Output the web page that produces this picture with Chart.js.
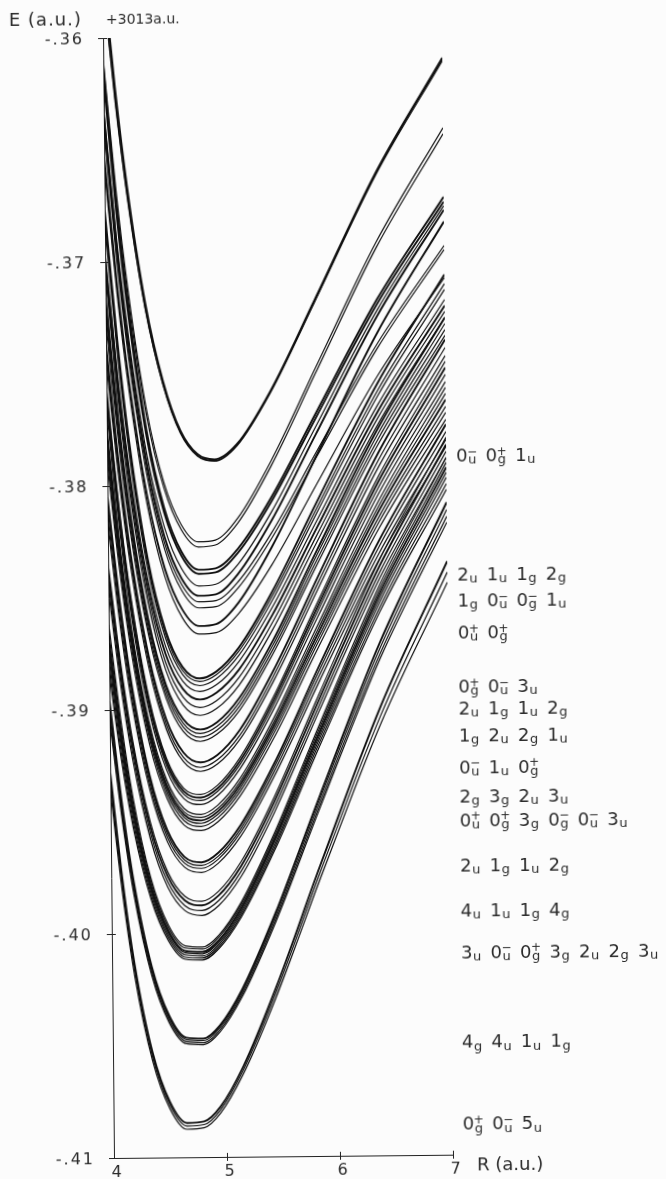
<!DOCTYPE html>
<html>
<head>
<meta charset="utf-8">
<script src="https://cdn.jsdelivr.net/npm/chart.js@4.4.1/dist/chart.umd.min.js"></script>
<style>
  html, body { margin: 0; padding: 0; background: #fcfcfc; }
  #wrap { position: relative; width: 666px; height: 1179px; overflow: hidden; }
  #plot { position: absolute; left: 0; top: 0; transform-origin: 114px 1158px; transform: rotate(-0.56deg); }
</style>
</head>
<body>
<div id="wrap"><canvas id="plot" width="666" height="1179"></canvas></div>
<script>
// Internuclear distance grid R (a.u.) shared by all curves
const rGrid = [4.0, 4.1, 4.2, 4.35, 4.5, 4.65, 4.8, 4.95, 5.15, 5.45, 5.85, 6.4, 7.0];

// Potential energy curves E(R) in a.u. (shifted by +3013 a.u.), one array per state
const curveA1 = [-0.35670, -0.36218, -0.36667, -0.37184, -0.37533, -0.37755, -0.37862, -0.37886, -0.37818, -0.37583, -0.37177, -0.36612, -0.36103];
const curveA2 = [-0.35750, -0.36280, -0.36713, -0.37213, -0.37550, -0.37765, -0.37868, -0.37891, -0.37823, -0.37587, -0.37182, -0.36617, -0.36107];
const curveA3 = [-0.35730, -0.36265, -0.36703, -0.37209, -0.37549, -0.37767, -0.37871, -0.37894, -0.37826, -0.37591, -0.37187, -0.36624, -0.36116];

const curveB1 = [-0.36100, -0.36673, -0.37131, -0.37654, -0.37987, -0.38176, -0.38253, -0.38246, -0.38149, -0.37895, -0.37482, -0.36921, -0.36415];
const curveB2 = [-0.36150, -0.36715, -0.37167, -0.37684, -0.38012, -0.38199, -0.38276, -0.38268, -0.38171, -0.37918, -0.37506, -0.36946, -0.36442];
const curveB3 = [-0.36130, -0.36728, -0.37206, -0.37752, -0.38099, -0.38297, -0.38378, -0.38372, -0.38285, -0.38057, -0.37684, -0.37179, -0.36723];
const curveB4 = [-0.36180, -0.36769, -0.37241, -0.37779, -0.38122, -0.38316, -0.38396, -0.38390, -0.38303, -0.38076, -0.37704, -0.37200, -0.36745];

const curveC1 = [-0.36320, -0.36886, -0.37339, -0.37857, -0.38186, -0.38373, -0.38450, -0.38443, -0.38354, -0.38122, -0.37742, -0.37227, -0.36763];
const curveC2 = [-0.36350, -0.36920, -0.37377, -0.37897, -0.38229, -0.38417, -0.38494, -0.38488, -0.38397, -0.38161, -0.37776, -0.37253, -0.36781];
const curveC3 = [-0.36380, -0.36949, -0.37405, -0.37925, -0.38256, -0.38444, -0.38521, -0.38516, -0.38432, -0.38215, -0.37859, -0.37376, -0.36941];
const curveC4 = [-0.36410, -0.36979, -0.37434, -0.37953, -0.38283, -0.38471, -0.38548, -0.38543, -0.38459, -0.38240, -0.37882, -0.37397, -0.36959];

const curveD1 = [-0.36530, -0.37088, -0.37535, -0.38044, -0.38369, -0.38553, -0.38629, -0.38621, -0.38526, -0.38279, -0.37876, -0.37328, -0.36834];
const curveD2 = [-0.36580, -0.37134, -0.37578, -0.38084, -0.38406, -0.38590, -0.38665, -0.38659, -0.38575, -0.38358, -0.38002, -0.37519, -0.37084];

const curveE1 = [-0.36770, -0.37352, -0.37819, -0.38327, -0.38645, -0.38812, -0.38863, -0.38832, -0.38726, -0.38478, -0.38081, -0.37551, -0.37070];
const curveE2 = [-0.36800, -0.37377, -0.37841, -0.38345, -0.38661, -0.38827, -0.38877, -0.38846, -0.38742, -0.38497, -0.38107, -0.37584, -0.37111];
const curveE3 = [-0.36840, -0.37411, -0.37870, -0.38369, -0.38681, -0.38845, -0.38895, -0.38864, -0.38761, -0.38517, -0.38129, -0.37608, -0.37137];

const curveF1 = [-0.36960, -0.37505, -0.37942, -0.38419, -0.38717, -0.38874, -0.38921, -0.38891, -0.38788, -0.38547, -0.38163, -0.37648, -0.37182];
const curveF2 = [-0.36990, -0.37537, -0.37975, -0.38453, -0.38752, -0.38909, -0.38957, -0.38926, -0.38824, -0.38581, -0.38195, -0.37677, -0.37209];
const curveF3 = [-0.37030, -0.37576, -0.38013, -0.38490, -0.38789, -0.38945, -0.38993, -0.38962, -0.38859, -0.38615, -0.38227, -0.37706, -0.37235];
const curveF4 = [-0.37060, -0.37607, -0.38046, -0.38524, -0.38823, -0.38980, -0.39028, -0.38997, -0.38893, -0.38648, -0.38258, -0.37735, -0.37262];

const curveG1 = [-0.37160, -0.37697, -0.38127, -0.38597, -0.38890, -0.39044, -0.39091, -0.39059, -0.38951, -0.38698, -0.38294, -0.37752, -0.37262];
const curveG2 = [-0.37200, -0.37731, -0.38156, -0.38620, -0.38910, -0.39063, -0.39109, -0.39077, -0.38970, -0.38718, -0.38315, -0.37777, -0.37289];
const curveG3 = [-0.37230, -0.37757, -0.38180, -0.38641, -0.38929, -0.39080, -0.39126, -0.39094, -0.38988, -0.38737, -0.38337, -0.37801, -0.37316];
const curveG4 = [-0.37270, -0.37791, -0.38209, -0.38664, -0.38949, -0.39099, -0.39144, -0.39112, -0.39007, -0.38757, -0.38358, -0.37825, -0.37342];

const curveH1 = [-0.37370, -0.37889, -0.38306, -0.38760, -0.39044, -0.39193, -0.39238, -0.39205, -0.39095, -0.38834, -0.38419, -0.37863, -0.37360];
const curveH2 = [-0.37410, -0.37924, -0.38337, -0.38786, -0.39068, -0.39215, -0.39260, -0.39227, -0.39118, -0.38859, -0.38447, -0.37896, -0.37396];
const curveH3 = [-0.37450, -0.37958, -0.38366, -0.38810, -0.39088, -0.39234, -0.39278, -0.39246, -0.39137, -0.38881, -0.38473, -0.37927, -0.37432];

const curveI1 = [-0.37560, -0.38086, -0.38504, -0.38949, -0.39219, -0.39353, -0.39381, -0.39340, -0.39218, -0.38949, -0.38527, -0.37967, -0.37458];
const curveI2 = [-0.37600, -0.38118, -0.38530, -0.38969, -0.39235, -0.39367, -0.39395, -0.39354, -0.39233, -0.38966, -0.38547, -0.37990, -0.37485];
const curveI3 = [-0.37630, -0.38143, -0.38551, -0.38986, -0.39250, -0.39380, -0.39408, -0.39367, -0.39248, -0.38984, -0.38568, -0.38017, -0.37516];
const curveI4 = [-0.37670, -0.38177, -0.38580, -0.39009, -0.39270, -0.39399, -0.39426, -0.39386, -0.39267, -0.39005, -0.38593, -0.38045, -0.37548];

const curveJ1 = [-0.37740, -0.38239, -0.38636, -0.39060, -0.39316, -0.39443, -0.39470, -0.39429, -0.39310, -0.39045, -0.38628, -0.38076, -0.37574];
const curveJ2 = [-0.37770, -0.38265, -0.38658, -0.39077, -0.39332, -0.39458, -0.39484, -0.39444, -0.39325, -0.39062, -0.38648, -0.38099, -0.37601];
const curveJ3 = [-0.37800, -0.38290, -0.38679, -0.39094, -0.39346, -0.39471, -0.39497, -0.39457, -0.39339, -0.39078, -0.38668, -0.38122, -0.37628];
const curveJ4 = [-0.37830, -0.38315, -0.38701, -0.39112, -0.39361, -0.39484, -0.39510, -0.39470, -0.39354, -0.39095, -0.38689, -0.38149, -0.37659];
const curveJ5 = [-0.37860, -0.38340, -0.38722, -0.39129, -0.39376, -0.39498, -0.39524, -0.39485, -0.39369, -0.39112, -0.38708, -0.38172, -0.37686];
const curveJ6 = [-0.37900, -0.38374, -0.38751, -0.39153, -0.39396, -0.39517, -0.39542, -0.39503, -0.39388, -0.39133, -0.38732, -0.38200, -0.37717];

const curveK1 = [-0.38050, -0.38522, -0.38897, -0.39297, -0.39539, -0.39659, -0.39684, -0.39642, -0.39519, -0.39248, -0.38821, -0.38254, -0.37739];
const curveK2 = [-0.38090, -0.38554, -0.38923, -0.39317, -0.39555, -0.39673, -0.39698, -0.39657, -0.39535, -0.39266, -0.38843, -0.38281, -0.37771];
const curveK3 = [-0.38130, -0.38586, -0.38949, -0.39336, -0.39571, -0.39687, -0.39711, -0.39670, -0.39550, -0.39284, -0.38865, -0.38310, -0.37806];
const curveK4 = [-0.38170, -0.38620, -0.38978, -0.39359, -0.39591, -0.39705, -0.39729, -0.39688, -0.39569, -0.39305, -0.38890, -0.38338, -0.37838];

const curveL1 = [-0.38350, -0.38785, -0.39132, -0.39501, -0.39724, -0.39835, -0.39858, -0.39813, -0.39683, -0.39395, -0.38943, -0.38342, -0.37797];
const curveL2 = [-0.38390, -0.38819, -0.39160, -0.39524, -0.39744, -0.39854, -0.39876, -0.39832, -0.39703, -0.39416, -0.38967, -0.38370, -0.37829];
const curveL3 = [-0.38430, -0.38854, -0.39192, -0.39551, -0.39769, -0.39877, -0.39899, -0.39855, -0.39726, -0.39441, -0.38994, -0.38399, -0.37860];
const curveL4 = [-0.38470, -0.38889, -0.39222, -0.39577, -0.39793, -0.39899, -0.39921, -0.39877, -0.39749, -0.39464, -0.39018, -0.38425, -0.37887];

const curveM1 = [-0.38620, -0.39051, -0.39394, -0.39751, -0.39961, -0.40056, -0.40062, -0.40008, -0.39862, -0.39554, -0.39080, -0.38453, -0.37887];
const curveM2 = [-0.38660, -0.39082, -0.39417, -0.39767, -0.39973, -0.40066, -0.40071, -0.40017, -0.39872, -0.39566, -0.39095, -0.38472, -0.37909];
const curveM3 = [-0.38700, -0.39114, -0.39443, -0.39786, -0.39988, -0.40079, -0.40084, -0.40031, -0.39886, -0.39581, -0.39112, -0.38491, -0.37931];
const curveM4 = [-0.38730, -0.39138, -0.39462, -0.39800, -0.39998, -0.40088, -0.40093, -0.40040, -0.39897, -0.39593, -0.39127, -0.38510, -0.37953];
const curveM5 = [-0.38760, -0.39162, -0.39481, -0.39813, -0.40009, -0.40097, -0.40102, -0.40049, -0.39907, -0.39606, -0.39142, -0.38529, -0.37976];
const curveM6 = [-0.38800, -0.39192, -0.39504, -0.39829, -0.40020, -0.40107, -0.40111, -0.40059, -0.39918, -0.39619, -0.39159, -0.38552, -0.38003];
const curveM7 = [-0.38840, -0.39223, -0.39528, -0.39845, -0.40032, -0.40116, -0.40120, -0.40068, -0.39928, -0.39632, -0.39176, -0.38573, -0.38029];

const curveN1 = [-0.38960, -0.39412, -0.39771, -0.40146, -0.40366, -0.40466, -0.40471, -0.40412, -0.40252, -0.39914, -0.39395, -0.38707, -0.38087];
const curveN2 = [-0.38990, -0.39436, -0.39790, -0.40159, -0.40376, -0.40475, -0.40480, -0.40421, -0.40263, -0.39929, -0.39414, -0.38733, -0.38119];
const curveN3 = [-0.39020, -0.39460, -0.39809, -0.40173, -0.40387, -0.40484, -0.40489, -0.40431, -0.40274, -0.39943, -0.39433, -0.38759, -0.38150];
const curveN4 = [-0.39050, -0.39483, -0.39828, -0.40187, -0.40398, -0.40493, -0.40498, -0.40441, -0.40285, -0.39956, -0.39450, -0.38780, -0.38176];

const curveO1 = [-0.39280, -0.39761, -0.40139, -0.40529, -0.40752, -0.40847, -0.40841, -0.40774, -0.40600, -0.40245, -0.39704, -0.38994, -0.38350];
const curveO2 = [-0.39320, -0.39793, -0.40165, -0.40548, -0.40767, -0.40861, -0.40855, -0.40788, -0.40616, -0.40267, -0.39733, -0.39034, -0.38399];
const curveO3 = [-0.39360, -0.39825, -0.40191, -0.40567, -0.40783, -0.40875, -0.40869, -0.40803, -0.40633, -0.40289, -0.39762, -0.39071, -0.38444];

// State designations (Omega, g/u, +/-) listed beside the curves, top to bottom
const stateRows = [
  '0u- 0g+ 1u',
  '2u 1u 1g 2g',
  '1g 0u- 0g- 1u',
  '0u+ 0g+',
  '0g+ 0u- 3u',
  '2u 1g 1u 2g',
  '1g 2u 2g 1u',
  '0u- 1u 0g+',
  '2g 3g 2u 3u',
  '0u+ 0g+ 3g 0g- 0u- 3u',
  '2u 1g 1u 2g',
  '4u 1u 1g 4g',
  '3u 0u- 0g+ 3g 2u 2g 3u',
  '4g 4u 1u 1g',
  '0g+ 0u- 5u'
];
// Energy level at which each row of designations is written
const rowEnergy = [-0.37877, -0.38408, -0.38524, -0.38667, -0.38908, -0.39006, -0.39126,
                   -0.39269, -0.39398, -0.39505, -0.39706, -0.39907, -0.40094, -0.40495, -0.40861];

// Axis ticks
const yTickValues = [-0.41, -0.40, -0.39, -0.38, -0.37, -0.36];
const yTickLabels = ['-.41', '-.40', '-.39', '-.38', '-.37', '-.36'];
const xTickValues = [4, 5, 6, 7];
const xTickLabels = ['4', '5', '6', '7'];

const curveList = [
  ['A1', curveA1], ['A2', curveA2], ['A3', curveA3],
  ['B1', curveB1], ['B2', curveB2], ['B3', curveB3], ['B4', curveB4],
  ['C1', curveC1], ['C2', curveC2], ['C3', curveC3], ['C4', curveC4],
  ['D1', curveD1], ['D2', curveD2],
  ['E1', curveE1], ['E2', curveE2], ['E3', curveE3],
  ['F1', curveF1], ['F2', curveF2], ['F3', curveF3], ['F4', curveF4],
  ['G1', curveG1], ['G2', curveG2], ['G3', curveG3], ['G4', curveG4],
  ['H1', curveH1], ['H2', curveH2], ['H3', curveH3],
  ['I1', curveI1], ['I2', curveI2], ['I3', curveI3], ['I4', curveI4],
  ['J1', curveJ1], ['J2', curveJ2], ['J3', curveJ3], ['J4', curveJ4], ['J5', curveJ5], ['J6', curveJ6],
  ['K1', curveK1], ['K2', curveK2], ['K3', curveK3], ['K4', curveK4],
  ['L1', curveL1], ['L2', curveL2], ['L3', curveL3], ['L4', curveL4],
  ['M1', curveM1], ['M2', curveM2], ['M3', curveM3], ['M4', curveM4], ['M5', curveM5], ['M6', curveM6], ['M7', curveM7],
  ['N1', curveN1], ['N2', curveN2], ['N3', curveN3], ['N4', curveN4],
  ['O1', curveO1], ['O2', curveO2], ['O3', curveO3]
];
// Curves traced with a heavier pen
const heavyCurves = ['A1', 'B3', 'B4', 'C2', 'D1', 'E1', 'F2', 'G1', 'H1', 'I2', 'J3', 'K1', 'L2', 'M3', 'N1', 'O1'];

const FONT = '"DejaVu Sans", "Liberation Sans", sans-serif';
const INK = '#2a2a2a';

const datasets = curveList.map(([name, values]) => ({
  label: name,
  data: rGrid.map((r, i) => ({ x: r, y: values[i] })),
  borderColor: '#101010',
  borderWidth: heavyCurves.includes(name) ? 1.9 : 1.2,
  pointRadius: 0,
  fill: false,
  cubicInterpolationMode: 'monotone'
}));

function drawState(ctx, tok, x, yc) {
  const base = tok[0], sub = tok[1], sign = tok[2];
  ctx.textAlign = 'left';
  ctx.textBaseline = 'alphabetic';
  ctx.font = '18px ' + FONT;
  ctx.fillText(base, x, yc + 6.5);
  const w = ctx.measureText(base).width;
  ctx.font = '13px ' + FONT;
  ctx.fillText(sub, x + w + 0.5, yc + 9);
  const sw = ctx.measureText(sub).width;
  if (sign) {
    ctx.font = '12px ' + FONT;
    ctx.textAlign = 'center';
    ctx.textBaseline = 'middle';
    ctx.fillText(sign === '-' ? '\u2212' : '+', x + w + 0.5 + sw / 2, yc - 3);
  }
}

const decorations = {
  id: 'decorations',
  afterDraw(chart) {
    const { ctx, chartArea: ca, scales } = chart;
    const xs = scales.x, ys = scales.y;
    ctx.save();
    ctx.strokeStyle = '#222';
    ctx.lineWidth = 1;
    ctx.fillStyle = INK;
    ctx.font = '16px ' + FONT;
    // y axis: cross ticks and labels
    ctx.letterSpacing = '2px';
    ctx.textAlign = 'right';
    ctx.textBaseline = 'middle';
    yTickValues.forEach((v, i) => {
      const py = Math.round(ys.getPixelForValue(v)) + 0.5;
      ctx.beginPath(); ctx.moveTo(ca.left - 5, py); ctx.lineTo(ca.left + 4, py); ctx.stroke();
      ctx.fillText(yTickLabels[i], ca.left - 19, py + 1);
    });
    ctx.letterSpacing = '0px';
    // x axis: cross ticks and labels
    ctx.textAlign = 'center';
    xTickValues.forEach((v, i) => {
      const px = Math.round(xs.getPixelForValue(v)) + 0.5;
      if (i > 0) { ctx.beginPath(); ctx.moveTo(px, ca.bottom - 4); ctx.lineTo(px, ca.bottom + 4); ctx.stroke(); }
      ctx.fillText(xTickLabels[i], px + 2, ca.bottom + 15);
    });
    // axis titles
    ctx.textAlign = 'left';
    ctx.font = '18px ' + FONT;
    ctx.letterSpacing = '1px';
    ctx.fillText('E (a.u.)', 20, 20);
    ctx.letterSpacing = '0px';
    ctx.font = '14px ' + FONT;
    ctx.fillText('+3013a.u.', 117, 20);
    ctx.font = '18px ' + FONT;
    ctx.fillText('R (a.u.)', ca.right + 24, ca.bottom + 11);
    // state designations
    stateRows.forEach((row, i) => {
      const yc = ys.getPixelForValue(rowEnergy[i]);
      row.split(' ').forEach((tok, j) => drawState(ctx, tok, ca.right + 10 + j * 29.5, yc));
    });
    ctx.restore();
  }
};

new Chart(document.getElementById('plot'), {
  type: 'line',
  data: { datasets },
  options: {
    responsive: false,
    animation: false,
    devicePixelRatio: 1,
    layout: { padding: { top: 38, right: 213, bottom: 0, left: 0 } },
    plugins: { legend: { display: false }, tooltip: { enabled: false } },
    scales: {
      x: {
        type: 'linear', min: 4, max: 7,
        afterFit(scale) { scale.height = 21; },
        grid: { display: false },
        border: { display: true, color: '#222', width: 1 },
        ticks: { display: false, stepSize: 1 }
      },
      y: {
        type: 'linear', min: -0.41, max: -0.36,
        afterFit(scale) { scale.width = 114; },
        grid: { display: false },
        border: { display: true, color: '#222', width: 1 },
        ticks: { display: false, stepSize: 0.01 }
      }
    }
  },
  plugins: [decorations]
});
</script>
</body>
</html>
